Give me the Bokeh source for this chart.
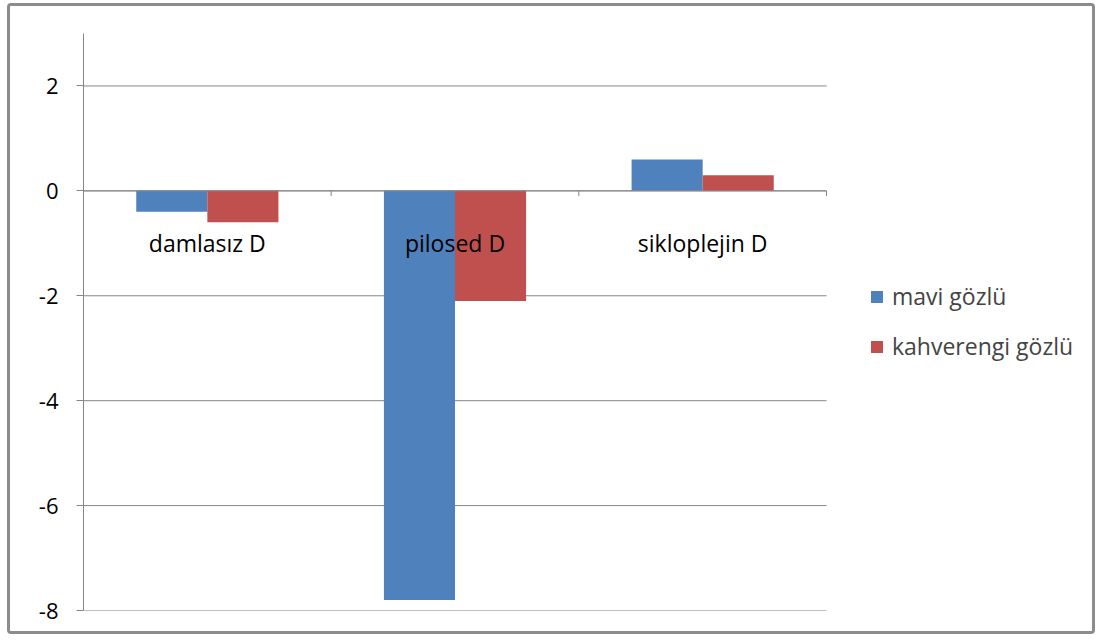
from bokeh.plotting import figure
from bokeh.models import (ColumnDataSource, Range1d, FixedTicker, Legend, LegendItem,
                          PrintfTickFormatter)
from bokeh.core.properties import value
from bokeh.embed import file_html
from bokeh.resources import INLINE

# Data
categories = ["damlasız D", "pilosed D", "sikloplejin D"]
series_names = ["mavi gözlü", "kahverengi gözlü"]
mavi = [-0.4, -7.8, 0.6]
kahverengi = [-0.6, -2.1, 0.3]
y_ticks = [-8, -6, -4, -2, 0, 2]

colors = ["#4F81BD", "#C0504D"]
FONT = "Open Sans"
GREY = "#868686"

n = len(categories)
centers = [i + 0.5 for i in range(n)]
bar_w = 0.287

# canvas geometry: plot region of 743 px for the categories, legend to its right
W, H = 1088, 631
left_pad, right_pad = 73, 10
frame_w = W - left_pad - right_pad
x_end = n * frame_w / 743.0

p = figure(width=W, height=H, output_backend="svg", toolbar_location=None,
           x_range=Range1d(0, x_end), y_range=Range1d(-8, 3),
           min_border_left=left_pad, min_border_right=right_pad,
           min_border_top=27, min_border_bottom=27)
p.styles = {"border": "3px solid #8c8c8c", "border-radius": "4px",
            "margin-left": "7px", "margin-top": "3px"}
p.outline_line_color = None
p.background_fill_color = "white"
p.border_fill_color = "white"

p.xaxis.visible = False
p.xgrid.visible = False
p.ygrid.visible = False

yax = p.yaxis[0]
yax.ticker = FixedTicker(ticks=y_ticks)
yax.formatter = PrintfTickFormatter(format="%d")
yax.axis_line_color = GREY
yax.major_tick_line_color = GREY
yax.major_tick_out = 7
yax.major_tick_in = 0
yax.minor_tick_line_color = None
yax.major_label_text_font = FONT
yax.major_label_text_font_size = "22px"
yax.major_label_text_color = "black"
yax.major_label_standoff = 18

# horizontal gridlines across the category area only
p.segment(x0=[0] * len(y_ticks), x1=[n] * len(y_ticks), y0=y_ticks, y1=y_ticks,
          line_color=GREY, line_width=1)

src = ColumnDataSource(dict(
    mx=[c - bar_w / 2 for c in centers], kx=[c + bar_w / 2 for c in centers],
    mavi=mavi, kahverengi=kahverengi,
))
r1 = p.vbar(x="mx", top="mavi", bottom=0, width=bar_w, source=src,
            fill_color=colors[0], line_color=None)
r2 = p.vbar(x="kx", top="kahverengi", bottom=0, width=bar_w, source=src,
            fill_color=colors[1], line_color=None)

# category axis along zero with boundary ticks
bounds = list(range(n + 1))
p.segment(x0=bounds, x1=bounds, y0=[0] * len(bounds), y1=[-0.1] * len(bounds),
          line_color=GREY, line_width=1)
p.segment(x0=[0], x1=[n], y0=[0], y1=[0], line_color=GREY, line_width=1)

p.text(x=centers, y=[0] * n, text=categories,
       text_font=value(FONT), text_font_size="23px", text_color="black",
       text_align="center", text_baseline="alphabetic", y_offset=52)

legend = Legend(items=[LegendItem(label=series_names[0], renderers=[r1]),
                       LegendItem(label=series_names[1], renderers=[r2])],
                location=(786, 248), orientation="vertical",
                label_text_font=FONT, label_text_font_size="23px",
                glyph_width=15, glyph_height=15, label_height=24, spacing=18,
                label_standoff=8, border_line_color=None,
                background_fill_alpha=0, padding=0, margin=0)
p.add_layout(legend, "center")

open("out.html", "w").write(file_html(p, INLINE))
